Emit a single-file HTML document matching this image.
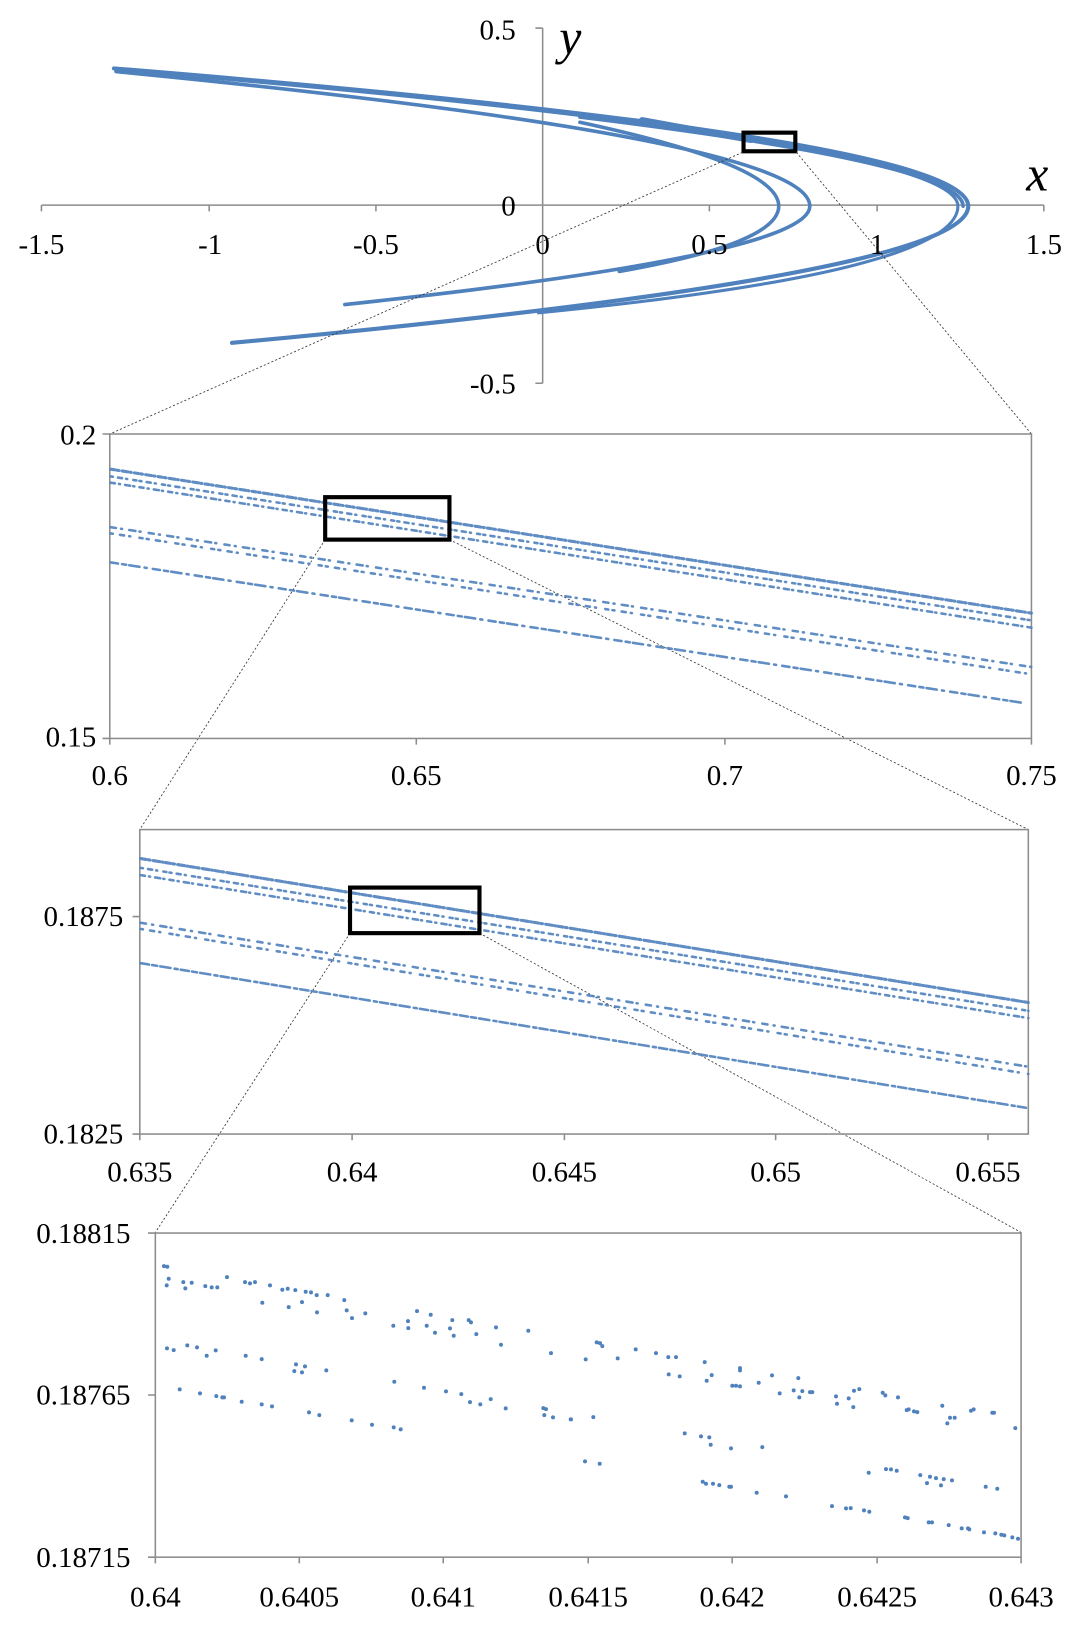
<!DOCTYPE html>
<html><head><meta charset="utf-8"><style>
html,body{margin:0;padding:0;background:#fff;}
svg{display:block;}
text{font-family:"Liberation Serif",serif;fill:#000;}
</style></head><body>
<svg width="1077" height="1625" viewBox="0 0 1040 1569" xmlns="http://www.w3.org/2000/svg">
<rect x="0" y="0" width="1040" height="1569" fill="#fff"/>

<!-- ===== Panel 1 ===== -->
<g stroke="#8c8c8c" stroke-width="1.5" fill="none">
  <line x1="40" y1="198" x2="1008" y2="198"/>
  <line x1="524" y1="27" x2="524" y2="370"/>
  <path d="M40,198v6M202,198v6M363,198v6M685,198v6M847,198v6M1008,198v6"/>
  <path d="M517,27h7M517,370h7"/>
</g>
<g stroke="#4f81bd" fill="none" stroke-linecap="round">
  <path d="M110,66 Q935,133 935,199 Q935,265 224,331" stroke-width="4"/>
  <path d="M120,68 Q925,135 925,199 Q925,262 520,302" stroke-width="3"/>
  <path d="M560,113 Q930,158 930,199" stroke-width="3.5"/>
  <path d="M112,69 Q782,134 782,199 Q782,246 333,294" stroke-width="3.5"/>
  <path d="M560,118 Q752,159 752,199 Q752,235 598,262" stroke-width="3.5"/>
  <path d="M620,116 L725,135" stroke-width="6"/>
</g>
<rect x="718" y="128" width="50" height="18" fill="none" stroke="#000" stroke-width="4"/>
<g font-size="28" text-anchor="middle">
  <text x="40" y="245">-1.5</text><text x="203" y="245">-1</text><text x="363" y="245">-0.5</text>
  <text x="524" y="245">0</text><text x="685" y="245">0.5</text><text x="847" y="245">1</text><text x="1008" y="245">1.5</text>
</g>
<g font-size="28" text-anchor="end">
  <text x="498" y="38">0.5</text><text x="498" y="208">0</text><text x="498" y="380">-0.5</text>
</g>
<text x="540" y="52" font-size="48" font-style="italic">y</text>
<text x="991" y="184" font-size="48" font-style="italic">x</text>

<!-- connectors -->
<g stroke="#333" stroke-width="0.8" stroke-dasharray="2 2" fill="none">
  <line x1="717" y1="147" x2="106" y2="419"/>
  <line x1="769" y1="147" x2="996" y2="419"/>
  <line x1="314" y1="521" x2="135" y2="801"/>
  <line x1="434" y1="521" x2="993" y2="801"/>
  <line x1="338" y1="901" x2="150" y2="1190"/>
  <line x1="463" y1="901" x2="986" y2="1190"/>
</g>

<!-- ===== Panel 2 ===== -->
<g stroke="#8c8c8c" stroke-width="1.5" fill="none">
  <rect x="106" y="419" width="890" height="294"/>
  <path d="M99,419h7M99,713h7M106,713v6M402,713v6M700,713v6M996,713v6"/>
</g>
<g stroke="#4f81bd" fill="none" stroke-linecap="round" opacity="0.9">
  <line x1="107" y1="453" x2="996" y2="592" stroke-width="3" stroke-dasharray="4 2 2 3 6 2 1 3"/>
  <line x1="107" y1="460" x2="996" y2="599" stroke-width="2.5" stroke-dasharray="2 5 4 4 1 6 3 3"/>
  <line x1="107" y1="466" x2="996" y2="606" stroke-width="2.5" stroke-dasharray="4 4 1 5 5 3 1 5"/>
  <line x1="107" y1="509" x2="996" y2="644" stroke-width="2.5" stroke-dasharray="5 5 1 7 6 4 1 8"/>
  <line x1="107" y1="515" x2="996" y2="651" stroke-width="2.5" stroke-dasharray="2 7 4 5 1 9 3 4"/>
  <line x1="107" y1="543" x2="990" y2="679" stroke-width="2.5" stroke-dasharray="7 4 4 3 10 5 2 6"/>
</g>
<rect x="314" y="480" width="120" height="41" fill="none" stroke="#000" stroke-width="4"/>
<g font-size="28" text-anchor="end"><text x="93" y="429">0.2</text><text x="93" y="721">0.15</text></g>
<g font-size="28" text-anchor="middle">
  <text x="106" y="758">0.6</text><text x="402" y="758">0.65</text><text x="700" y="758">0.7</text><text x="996" y="758">0.75</text>
</g>

<!-- ===== Panel 3 ===== -->
<g stroke="#8c8c8c" stroke-width="1.5" fill="none">
  <rect x="135" y="801" width="858" height="294"/>
  <path d="M128,885h7M128,1095h7M135,1095v6M340,1095v6M545,1095v6M749,1095v6M954,1095v6"/>
</g>
<g stroke="#4f81bd" fill="none" stroke-linecap="round" opacity="0.9">
  <line x1="136" y1="829" x2="993" y2="968" stroke-width="3" stroke-dasharray="5 2 2 3 7 2 1 2"/>
  <line x1="136" y1="838" x2="993" y2="976" stroke-width="2.5" stroke-dasharray="2 5 4 4 1 6 3 3"/>
  <line x1="136" y1="845" x2="993" y2="983" stroke-width="2.5" stroke-dasharray="4 4 1 5 5 3 1 5"/>
  <line x1="136" y1="891" x2="993" y2="1030" stroke-width="2.5" stroke-dasharray="5 6 1 7 6 4 1 8"/>
  <line x1="136" y1="897" x2="993" y2="1037" stroke-width="2.5" stroke-dasharray="2 7 4 5 1 9 3 4"/>
  <line x1="136" y1="930" x2="993" y2="1070" stroke-width="2.5" stroke-dasharray="8 3 5 3 10 4 3 3"/>
</g>
<rect x="338" y="857" width="125" height="44" fill="none" stroke="#000" stroke-width="4"/>
<g font-size="28" text-anchor="end"><text x="119" y="894">0.1875</text><text x="119" y="1104">0.1825</text></g>
<g font-size="28" text-anchor="middle">
  <text x="135" y="1141">0.635</text><text x="340" y="1141">0.64</text><text x="545" y="1141">0.645</text><text x="749" y="1141">0.65</text><text x="954" y="1141">0.655</text>
</g>

<!-- ===== Panel 4 ===== -->
<g stroke="#8c8c8c" stroke-width="1.5" fill="none">
  <rect x="150" y="1190.6" width="836" height="313"/>
  <path d="M143,1190.6h7M143,1347h7M143,1503.6h7M150,1503.6v6M289,1503.6v6M428,1503.6v6M568,1503.6v6M707,1503.6v6M847,1503.6v6M986,1503.6v6"/>
</g>
<g transform="scale(0.96564)">
<path stroke="#4f81bd" stroke-width="4" stroke-linecap="round" fill="none" d="
M164,1266h0M167.3,1266.7h0M168.7,1278.7h0M166.7,1285.3h0M183.3,1282h0M185.3,1288.3h0M191.7,1282.7h0M205.3,1286h0M211.7,1287.3h0M217.3,1287.3h0M227,1277h0M245,1282h0M250,1283.3h0M255,1282h0M262.3,1302.7h0M270,1285.3h0M282.3,1289.7h0M287.7,1288.7h0M288.7,1307h0M295.3,1290h0M302,1302h0M305.7,1291.7h0M311,1292.3h0M316.7,1295h0M317,1312.3h0M327.7,1295h0M344.3,1300h0M346.7,1310.3h0M352,1318h0M365.3,1313.3h0M393.3,1325.7h0M408,1321h0M408.3,1328h0M417,1311h0M426.7,1325.7h0M430.7,1314.7h0M435,1332.7h0M450,1328.3h0M452.3,1320h0M453.7,1335.7h0M468.7,1320h0M471,1322.3h0M476.3,1334h0M496,1327.3h0M501,1344.7h0M528.3,1330.7h0M551,1353h0
M167,1348.3h0M173.7,1350h0M187.3,1345.3h0M197,1347.3h0M206.7,1355.7h0M215.7,1350.3h0M245.7,1355.7h0M261.7,1359h0M296,1364.3h0M305,1366.3h0M294.3,1371h0M302,1372.3h0M326.3,1370.3h0M394.3,1381.7h0M424,1387.7h0M446,1391.3h0M461.3,1394h0M470,1402h0M480.3,1404.3h0M490.7,1399h0M505.7,1408.3h0M543.3,1408h0M546,1409h0M544.3,1415h0M553,1417.3h0M571,1419.3h0
M179.7,1389.3h0M200,1393.3h0M216.3,1396h0M222.3,1397.3h0M224,1397.3h0M241.7,1401.7h0M261.7,1404.3h0M272,1406.3h0M309,1412.3h0M319.3,1415h0M351.7,1420.3h0M372,1424.7h0M393.7,1427.3h0M400.7,1429.3h0
M596.7,1342.3h0M600,1343h0M602.3,1346h0M585.7,1359.3h0M617.7,1358.3h0M635.7,1349.3h0M656,1353h0M668.3,1357h0M676,1357h0M704.7,1362h0M668.7,1374.3h0M679.7,1376.3h0M706.7,1380.7h0M711.7,1375h0M740,1368h0M740,1370.3h0M732.3,1385.7h0M736,1385.7h0M740,1386.3h0M758.7,1382.7h0M772,1375.3h0M779.7,1393.3h0M793.7,1390.3h0M798.3,1378h0M799.3,1397.3h0M802.3,1391h0M810,1392h0M812.3,1392h0M836,1396.3h0M837,1403.7h0M848.7,1398.3h0M853.3,1407h0M854,1390.7h0M859.3,1389h0M882.7,1392.7h0M885.3,1395.3h0M898,1397.3h0M906.7,1410h0M908.7,1409.3h0M914,1411.3h0M917.3,1412h0M942.3,1405.7h0M947.3,1423.3h0M950,1417.7h0M954.7,1417.7h0M971,1410.7h0M973.7,1409.3h0M992.3,1412.7h0M994,1412.7h0M1015.3,1428h0
M570.7,1419.3h0M593.3,1417h0M684.7,1433.3h0M701,1436.3h0M709.3,1437.3h0M710.7,1444.7h0M731,1448.3h0M762.3,1447h0M868.7,1472.7h0M886,1469h0M891,1469.3h0M896.7,1470.7h0M920.3,1475h0M927,1483h0M930,1476.7h0M936,1478h0M941,1485.3h0M943.7,1479h0M952,1480.3h0M985.7,1486.7h0M997.3,1488.7h0
M585,1461.3h0M599.7,1463.7h0M702.7,1481.7h0M706,1483.7h0M713,1483.7h0M719.3,1485h0M729.3,1486.7h0M731,1486.7h0M756.7,1492.7h0M786,1496.3h0M832,1506h0M846,1508.3h0M850.7,1508h0M864,1510.3h0M869.3,1511.7h0M905,1517.3h0M907.7,1518h0M928.7,1522.3h0M932,1522.3h0M948.7,1525h0M961.7,1528.3h0M968,1528.3h0M969.3,1529.3h0M984,1532.3h0M995.3,1533.3h0M1001.3,1534.7h0M1004.3,1535.3h0M1012.3,1537.3h0M1018,1538.7h0"/>
</g>
<g font-size="28" text-anchor="end">
  <text x="126" y="1200">0.18815</text><text x="126" y="1356">0.18765</text><text x="126" y="1513">0.18715</text>
</g>
<g font-size="28" text-anchor="middle">
  <text x="150" y="1551">0.64</text><text x="289" y="1551">0.6405</text><text x="428" y="1551">0.641</text><text x="568" y="1551">0.6415</text><text x="707" y="1551">0.642</text><text x="847" y="1551">0.6425</text><text x="986" y="1551">0.643</text>
</g>
</svg>
</body></html>
